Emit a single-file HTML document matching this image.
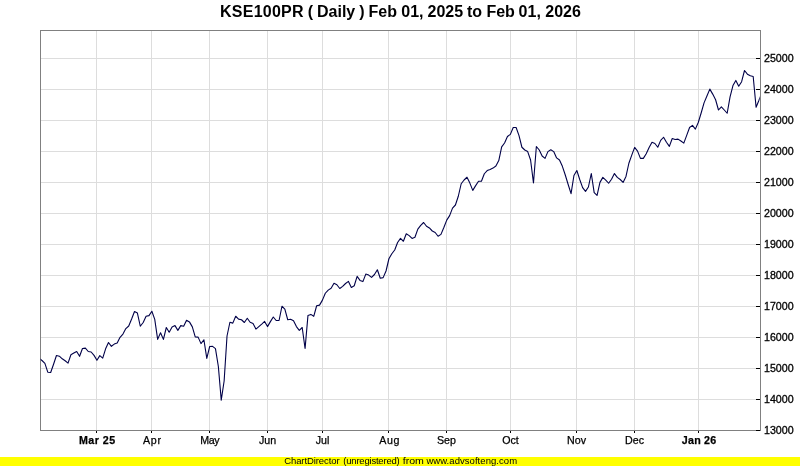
<!DOCTYPE html>
<html><head><meta charset="utf-8"><title>KSE100PR</title>
<style>
html,body{margin:0;padding:0;background:#fff;}
body{width:800px;height:466px;overflow:hidden;font-family:"Liberation Sans",Arial,sans-serif;}
svg{display:block;}
text{font-family:"Liberation Sans",Arial,sans-serif;fill:#000;}
.t2{font-size:16px;font-weight:bold;}
.y{font-size:10.67px;stroke:#000;stroke-width:0.3px;}
.x{font-size:10.67px;text-anchor:middle;stroke:#000;stroke-width:0.25px;}
.b{font-weight:bold;}
.f2{font-size:9.5px;}
</style></head><body>
<svg width="800" height="466" viewBox="0 0 800 466">
<rect x="0" y="0" width="800" height="466" fill="#fff"/>
<text class="t2" y="17"><tspan x="220" textLength="83.6" lengthAdjust="spacing">KSE100PR</tspan> <tspan x="307.8">(</tspan> <tspan x="317">Daily</tspan> <tspan x="359.3">)</tspan> <tspan x="368.5">Feb</tspan> <tspan x="401.3">01,</tspan> <tspan x="427.5">2025</tspan> <tspan x="466.9">to</tspan> <tspan x="486.4">Feb</tspan> <tspan x="518.6">01,</tspan> <tspan x="545.3">2026</tspan></text>
<g id="grid" stroke="#ddd" stroke-width="1" shape-rendering="crispEdges">
<line x1="41" y1="58.5" x2="760" y2="58.5"/>
<line x1="41" y1="89.5" x2="760" y2="89.5"/>
<line x1="41" y1="120.5" x2="760" y2="120.5"/>
<line x1="41" y1="151.5" x2="760" y2="151.5"/>
<line x1="41" y1="182.5" x2="760" y2="182.5"/>
<line x1="41" y1="213.5" x2="760" y2="213.5"/>
<line x1="41" y1="244.5" x2="760" y2="244.5"/>
<line x1="41" y1="275.5" x2="760" y2="275.5"/>
<line x1="41" y1="306.5" x2="760" y2="306.5"/>
<line x1="41" y1="337.5" x2="760" y2="337.5"/>
<line x1="41" y1="368.5" x2="760" y2="368.5"/>
<line x1="41" y1="399.5" x2="760" y2="399.5"/>
<line x1="96.5" y1="31" x2="96.5" y2="430"/>
<line x1="151.5" y1="31" x2="151.5" y2="430"/>
<line x1="209.5" y1="31" x2="209.5" y2="430"/>
<line x1="267.5" y1="31" x2="267.5" y2="430"/>
<line x1="322.5" y1="31" x2="322.5" y2="430"/>
<line x1="388.5" y1="31" x2="388.5" y2="430"/>
<line x1="446.5" y1="31" x2="446.5" y2="430"/>
<line x1="510.5" y1="31" x2="510.5" y2="430"/>
<line x1="576.5" y1="31" x2="576.5" y2="430"/>
<line x1="634.5" y1="31" x2="634.5" y2="430"/>
<line x1="698.5" y1="31" x2="698.5" y2="430"/>
</g>
<rect x="40.5" y="30.5" width="720" height="400" fill="none" stroke="#808080" stroke-width="1" shape-rendering="crispEdges"/>
<g id="ticks" stroke="#000" stroke-width="1" shape-rendering="crispEdges">
<line x1="756" y1="58.5" x2="760" y2="58.5"/>
<line x1="756" y1="89.5" x2="760" y2="89.5"/>
<line x1="756" y1="120.5" x2="760" y2="120.5"/>
<line x1="756" y1="151.5" x2="760" y2="151.5"/>
<line x1="756" y1="182.5" x2="760" y2="182.5"/>
<line x1="756" y1="213.5" x2="760" y2="213.5"/>
<line x1="756" y1="244.5" x2="760" y2="244.5"/>
<line x1="756" y1="275.5" x2="760" y2="275.5"/>
<line x1="756" y1="306.5" x2="760" y2="306.5"/>
<line x1="756" y1="337.5" x2="760" y2="337.5"/>
<line x1="756" y1="368.5" x2="760" y2="368.5"/>
<line x1="756" y1="399.5" x2="760" y2="399.5"/>
<line x1="756" y1="430.5" x2="760" y2="430.5"/>
<line x1="96.5" y1="431" x2="96.5" y2="433"/>
<line x1="151.5" y1="431" x2="151.5" y2="433"/>
<line x1="209.5" y1="431" x2="209.5" y2="433"/>
<line x1="267.5" y1="431" x2="267.5" y2="433"/>
<line x1="322.5" y1="431" x2="322.5" y2="433"/>
<line x1="388.5" y1="431" x2="388.5" y2="433"/>
<line x1="446.5" y1="431" x2="446.5" y2="433"/>
<line x1="510.5" y1="431" x2="510.5" y2="433"/>
<line x1="576.5" y1="431" x2="576.5" y2="433"/>
<line x1="634.5" y1="431" x2="634.5" y2="433"/>
<line x1="698.5" y1="431" x2="698.5" y2="433"/>
</g>
<g id="ylab">
<text class="y" x="764" y="61.8">25000</text>
<text class="y" x="764" y="92.8">24000</text>
<text class="y" x="764" y="123.8">23000</text>
<text class="y" x="764" y="154.8">22000</text>
<text class="y" x="764" y="185.8">21000</text>
<text class="y" x="764" y="216.8">20000</text>
<text class="y" x="764" y="247.8">19000</text>
<text class="y" x="764" y="278.8">18000</text>
<text class="y" x="764" y="309.8">17000</text>
<text class="y" x="764" y="340.8">16000</text>
<text class="y" x="764" y="371.8">15000</text>
<text class="y" x="764" y="402.8">14000</text>
<text class="y" x="764" y="433.8">13000</text>
</g>
<g id="xlab">
<text class="x b" x="97.1" y="444" textLength="36.2" lengthAdjust="spacing">Mar 25</text>
<text class="x" x="152" y="444" textLength="18.2" lengthAdjust="spacing">Apr</text>
<text class="x" x="209.9" y="444" textLength="19.4" lengthAdjust="spacing">May</text>
<text class="x" x="267.5" y="444">Jun</text>
<text class="x" x="322.5" y="444">Jul</text>
<text class="x" x="389.3" y="444" textLength="20.2" lengthAdjust="spacing">Aug</text>
<text class="x" x="446.5" y="444">Sep</text>
<text class="x" x="510.5" y="444">Oct</text>
<text class="x" x="576.5" y="444">Nov</text>
<text class="x" x="634.5" y="444">Dec</text>
<text class="x b" x="699" y="444" textLength="34.4" lengthAdjust="spacing">Jan 26</text>
</g>
<clipPath id="pc"><rect x="40.6" y="30" width="719.2" height="401"/></clipPath>
<polyline id="line" clip-path="url(#pc)" fill="none" stroke="#000048" stroke-width="1.1" stroke-linejoin="round" points="39.11,358.40 42.00,360.50 44.89,363.40 47.78,372.20 50.67,372.50 53.56,364.30 56.45,355.50 59.35,356.20 62.24,358.80 65.13,360.80 68.02,363.10 70.91,354.70 73.80,353.10 76.69,351.50 79.58,356.30 82.47,348.50 85.37,348.10 88.26,351.50 91.15,352.00 94.04,355.40 96.93,360.30 99.82,355.60 102.71,358.10 105.60,348.80 108.49,342.50 111.38,346.30 114.28,344.10 117.17,343.10 120.06,337.30 122.95,334.10 125.84,328.60 128.73,326.00 131.62,319.00 134.51,311.50 137.40,313.10 140.29,326.25 143.19,322.50 146.08,316.25 148.97,315.60 151.86,311.25 154.75,319.40 157.64,339.40 160.53,332.75 163.42,339.40 166.31,327.50 169.20,332.25 172.09,326.90 174.99,325.60 177.88,330.40 180.77,325.60 183.66,326.25 186.55,320.25 189.44,321.90 192.33,326.90 195.22,336.90 198.11,337.10 201.00,343.60 203.90,339.75 206.79,358.40 209.68,346.50 212.57,346.40 215.46,348.60 218.35,366.50 221.24,400.10 224.13,381.00 227.02,336.00 229.91,322.25 232.81,323.10 235.70,316.25 238.59,319.10 241.48,319.75 244.37,322.50 247.26,318.25 250.15,322.25 253.04,323.50 255.93,329.10 258.82,326.60 261.72,324.10 264.61,321.40 267.50,326.60 270.39,321.60 273.28,317.00 276.17,320.50 279.06,320.50 281.95,306.25 284.84,309.10 287.74,319.75 290.63,319.25 293.52,320.75 296.41,326.60 299.30,330.40 302.19,327.50 305.08,348.50 307.97,315.40 310.86,314.40 313.75,316.30 316.64,305.75 319.54,305.10 322.43,300.10 325.32,293.25 328.21,290.10 331.10,288.25 333.99,283.25 336.88,284.75 339.77,288.50 342.66,286.40 345.56,283.50 348.45,281.40 351.34,287.40 354.23,285.75 357.12,276.40 360.01,280.40 362.90,281.60 365.79,274.10 368.68,275.10 371.57,277.40 374.46,274.50 377.36,269.75 380.25,278.25 383.14,277.60 386.03,271.00 388.92,258.75 391.81,253.75 394.70,250.00 397.59,242.50 400.48,238.40 403.38,241.25 406.27,233.75 409.16,235.60 412.05,238.40 414.94,237.25 417.83,229.10 420.72,225.40 423.61,222.50 426.50,226.25 429.39,227.90 432.29,231.00 435.18,232.50 438.07,236.25 440.96,234.40 443.85,227.50 446.74,220.10 449.63,215.60 452.52,208.10 455.41,205.00 458.30,196.25 461.19,183.75 464.09,180.00 466.98,177.25 469.87,183.10 472.76,190.40 475.65,185.60 478.54,181.25 481.43,181.25 484.32,173.75 487.21,170.60 490.11,169.40 493.00,168.10 495.89,166.00 498.78,160.60 501.67,146.90 504.56,143.00 507.45,136.50 510.34,134.40 513.23,127.50 516.12,127.50 519.01,135.60 521.91,147.25 524.80,150.00 527.69,151.60 530.58,160.00 533.47,183.00 536.36,146.50 539.25,150.00 542.14,156.00 545.03,158.40 547.92,151.60 550.82,149.75 553.71,151.60 556.60,157.90 559.49,160.00 562.38,166.30 565.27,175.00 568.16,184.50 571.05,193.70 573.94,175.50 576.84,170.50 579.73,179.50 582.62,187.60 585.51,191.40 588.40,187.00 591.29,173.50 594.18,192.60 597.07,195.40 599.96,182.40 602.85,177.40 605.75,180.10 608.64,183.25 611.53,179.25 614.42,173.60 617.31,177.40 620.20,179.50 623.09,182.40 625.98,176.40 628.87,163.25 631.76,155.10 634.65,147.40 637.55,151.10 640.44,158.40 643.33,158.40 646.22,153.70 649.11,147.40 652.00,142.30 654.89,143.50 657.78,147.25 660.67,140.40 663.57,137.25 666.46,142.25 669.35,146.40 672.24,138.50 675.13,139.50 678.02,139.10 680.91,141.00 683.80,143.10 686.69,135.40 689.58,127.50 692.48,125.40 695.37,129.10 698.26,122.50 701.15,113.00 704.04,102.90 706.93,96.00 709.82,89.10 712.71,94.10 715.60,99.75 718.49,110.00 721.38,106.80 724.28,110.00 727.17,113.25 730.06,96.80 732.95,85.60 735.84,80.40 738.73,86.30 741.62,81.70 744.51,70.50 747.40,74.20 750.29,75.80 753.19,76.50 756.08,107.25 758.97,100.30 761.86,92.40"/>
<rect x="0" y="457" width="800" height="9" fill="#ffff00"/>
<text class="f2" y="464" transform="translate(0,464) scale(1,1.04) translate(0,-464)"><tspan x="284.2" textLength="55.4" lengthAdjust="spacing">ChartDirector</tspan> <tspan x="343.3" textLength="56.4" lengthAdjust="spacing">(unregistered)</tspan> <tspan x="402.7" textLength="21.2" lengthAdjust="spacingAndGlyphs">from</tspan> <tspan x="426.4" textLength="90.7" lengthAdjust="spacing">www.advsofteng.com</tspan></text>
</svg>
</body></html>
